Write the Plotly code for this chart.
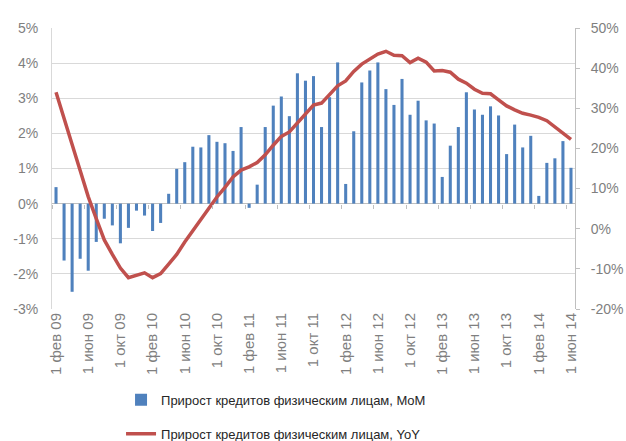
import plotly.graph_objects as go

categories = [
    "1 фев 09", "1 мар 09", "1 апр 09", "1 май 09", "1 июн 09", "1 июл 09", "1 авг 09", "1 сен 09", "1 окт 09", "1 ноя 09", "1 дек 09",
    "1 янв 10", "1 фев 10", "1 мар 10", "1 апр 10", "1 май 10", "1 июн 10", "1 июл 10", "1 авг 10", "1 сен 10", "1 окт 10", "1 ноя 10", "1 дек 10",
    "1 янв 11", "1 фев 11", "1 мар 11", "1 апр 11", "1 май 11", "1 июн 11", "1 июл 11", "1 авг 11", "1 сен 11", "1 окт 11", "1 ноя 11", "1 дек 11",
    "1 янв 12", "1 фев 12", "1 мар 12", "1 апр 12", "1 май 12", "1 июн 12", "1 июл 12", "1 авг 12", "1 сен 12", "1 окт 12", "1 ноя 12", "1 дек 12",
    "1 янв 13", "1 фев 13", "1 мар 13", "1 апр 13", "1 май 13", "1 июн 13", "1 июл 13", "1 авг 13", "1 сен 13", "1 окт 13", "1 ноя 13", "1 дек 13",
    "1 янв 14", "1 фев 14", "1 мар 14", "1 апр 14", "1 май 14", "1 июн 14",
]

mom = [0.47, -1.62, -2.51, -1.57, -1.91, -1.09, -0.43, -0.62, -1.13, -0.69,
       -0.20, -0.34, -0.78, -0.55, 0.28, 0.99, 1.18, 1.62, 1.60, 1.95,
       1.76, 1.72, 1.50, 2.18, -0.12, 0.54, 2.18, 2.79, 3.05, 2.49,
       3.71, 3.50, 3.63, 2.18, 3.03, 4.02, 0.56, 2.06, 3.45, 3.79,
       4.02, 3.26, 2.81, 3.55, 2.53, 2.93, 2.37, 2.28, 0.76, 1.65,
       2.18, 3.17, 2.68, 2.53, 2.77, 2.51, 1.41, 2.25, 1.60, 1.93,
       0.22, 1.16, 1.29, 1.78, 1.02]

yoy = [34.0, 27.8, 21.0, 14.5, 8.0, 2.5, -2.8, -6.4, -9.8, -12.2,
       -11.5, -11.0, -12.2, -11.2, -8.8, -6.4, -3.3, -0.5, 2.3, 5.0,
       7.9, 10.3, 12.9, 14.6, 15.4, 16.5, 18.4, 20.8, 23.0, 24.1,
       26.3, 28.6, 30.8, 31.3, 33.3, 35.6, 36.8, 39.2, 41.0, 42.3,
       43.5, 44.2, 43.2, 43.1, 41.4, 42.5, 41.5, 39.3, 39.4, 39.0,
       37.25, 36.25, 34.75, 33.75, 33.6, 32.1, 30.6, 29.6, 28.75, 28.3,
       27.75, 26.9, 25.4, 23.75, 22.25]

tick_labels = categories[::4]

left_ticks = [-3, -2, -1, 0, 1, 2, 3, 4, 5]
left_text = ["-3%", "-2%", "-1%", "0%", "1%", "2%", "3%", "4%", "5%"]
right_ticks = [-20, -10, 0, 10, 20, 30, 40, 50]
right_text = ["-20%", "-10%", "0%", "10%", "20%", "30%", "40%", "50%"]

FONT = "Liberation Sans"
GRAY = "#7f7f7f"

n = len(categories)
# category-boundary tick positions (every 4 months) for the axis drawn on the 0% line
boundary_ticks = [i - 0.5 for i in range(0, n + 1, 4)]
zero_pos = (0 - left_ticks[0]) / (left_ticks[-1] - left_ticks[0])

fig = go.Figure()
fig.add_trace(go.Bar(
    x=categories, y=mom, name="Прирост кредитов физическим лицам, MoM",
    marker=dict(color="#4f81bd", line=dict(width=0)),
    legendgroup="a", yaxis="y",
))
fig.add_trace(go.Scatter(
    x=categories, y=yoy, name="Прирост кредитов физическим лицам, YoY",
    mode="lines", line=dict(color="#c0504d", width=3.5),
    legendgroup="b", yaxis="y2",
))
# invisible helper trace so the 0%-line tick axis gets drawn
fig.add_trace(go.Scatter(
    x=list(range(n)), y=mom, xaxis="x2", yaxis="y",
    mode="markers", marker=dict(opacity=0), showlegend=False, hoverinfo="skip",
))

fig.update_layout(
    width=626, height=441,
    margin=dict(l=52, r=51, t=28, b=132, autoexpand=False),
    paper_bgcolor="white", plot_bgcolor="white",
    bargap=0.62,
    font=dict(family=FONT, size=14, color=GRAY),
    xaxis=dict(
        type="category", tickmode="array", tickvals=tick_labels, ticktext=tick_labels,
        tickangle=-90, tickfont=dict(size=15, color=GRAY),
        showgrid=False, showline=False, ticks="", automargin=False,
    ),
    xaxis2=dict(
        overlaying="x", anchor="free", position=zero_pos, side="bottom",
        range=[-0.5, n - 0.5], tickmode="array", tickvals=boundary_ticks,
        ticks="outside", ticklen=4, tickcolor="#bfbfbf", tickwidth=1,
        showticklabels=False, showgrid=False, zeroline=False, showline=False,
        automargin=False,
    ),
    yaxis=dict(
        range=[-3, 5], tickmode="array", tickvals=left_ticks, ticktext=left_text,
        showgrid=True, gridcolor="#d9d9d9", gridwidth=1,
        zeroline=True, zerolinecolor="#bfbfbf", zerolinewidth=1,
        showline=True, linecolor="#d9d9d9", linewidth=1,
        ticks="", ticklabelstandoff=10, automargin=False,
        tickfont=dict(size=14, color=GRAY),
    ),
    yaxis2=dict(
        range=[-20, 50], tickmode="array", tickvals=right_ticks, ticktext=right_text,
        overlaying="y", side="right", showgrid=False, zeroline=False,
        showline=True, linecolor="#bfbfbf", linewidth=1,
        ticks="outside", ticklen=4, tickcolor="#bfbfbf",
        ticklabelstandoff=8, automargin=False,
        tickfont=dict(size=14, color=GRAY),
    ),
    legend=dict(
        x=0.132, y=-0.27, xanchor="left", yanchor="top",
        orientation="v", traceorder="grouped", tracegroupgap=14,
        font=dict(size=13, color="#262626"), itemwidth=30,
        bgcolor="rgba(0,0,0,0)",
    ),
    showlegend=True,
)

fig.write_html(
    "out.html",
    config={"displayModeBar": False},
    post_script="document.body.style.margin='0';document.body.style.padding='0';",
)
